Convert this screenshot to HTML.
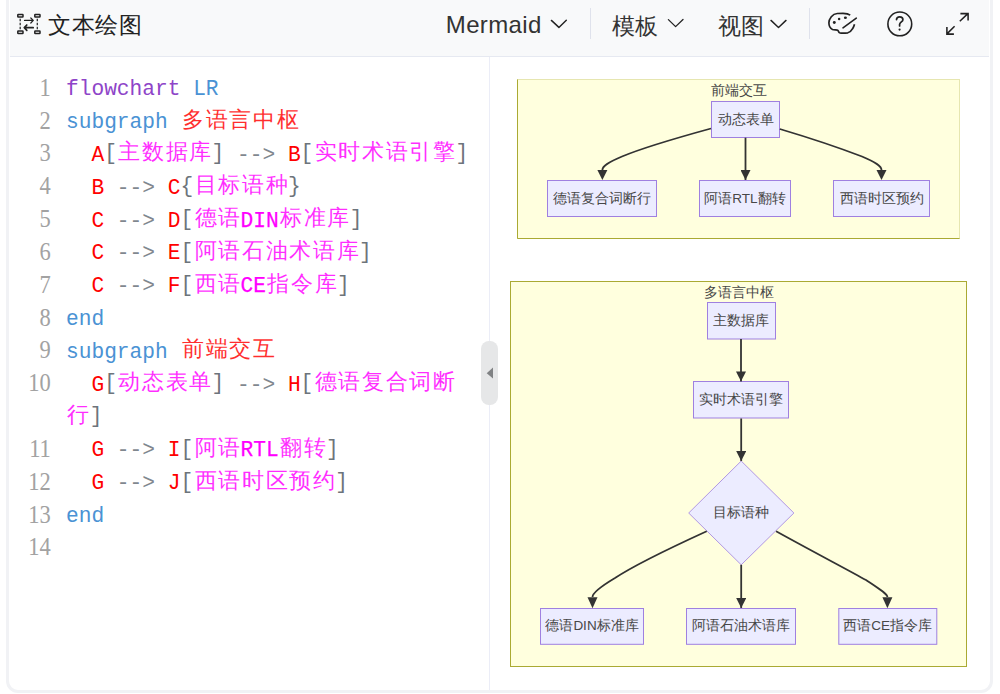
<!DOCTYPE html>
<html><head><meta charset="utf-8">
<style>
html,body{margin:0;padding:0;background:#fff;width:1000px;height:694px;overflow:hidden;position:relative;font-family:"Liberation Sans",sans-serif;}
.card{position:absolute;left:6px;top:-12px;width:987px;height:705px;box-sizing:border-box;border:3px solid #f1f2f5;border-radius:12px;}
.hdr{position:absolute;left:10px;top:0;width:979px;height:56px;background:#f8f9fa;border-bottom:1px solid #e6e9f1;}
.ttl{position:absolute;left:48.3px;top:8.8px;font-size:23.2px;letter-spacing:0.45px;line-height:32px;color:#222;}
.mi{position:absolute;top:8px;font-size:23.5px;line-height:32px;color:#333;}
.sep{position:absolute;top:8px;width:1px;height:31px;background:#dfe2ec;}
.split{position:absolute;left:489px;top:57px;width:1px;height:633px;background:#ebedf7;}
.handle{position:absolute;left:481px;top:341px;width:17px;height:64px;border-radius:8px;background:#e6e7e8;}
.code{position:absolute;left:0;top:0;}
.ln{position:absolute;left:0px;width:50.8px;text-align:right;font-family:"Liberation Serif",serif;font-size:25px;color:#a2a2a2;height:33px;line-height:33px;transform:scaleX(0.9);transform-origin:right center;margin-top:-2.5px;}
.cl{position:absolute;left:66px;font-family:"Liberation Mono",monospace;font-size:21.2px;height:33px;line-height:33px;white-space:pre;color:#777;}
.c{display:inline-block;box-sizing:border-box;white-space:nowrap;line-height:10px;font-size:21.7px;letter-spacing:1.68px;padding-left:1.4px;position:relative;top:-1.5px;}
.br{position:relative;top:-1.5px;}
.kw{color:#8e44c8}.bl{color:#4a92d4}.rd{color:#f00}.mg{color:#f0f;-webkit-text-stroke:0.25px #f0f}.c{-webkit-text-stroke:0;opacity:0.82}.gy{color:#80878e}.gy.br{color:#6d747b}
</style></head><body>
<div class="card"></div>
<div class="hdr"></div>
<svg style="position:absolute;left:0;top:0" width="1000" height="56" viewBox="0 0 1000 56">
<g fill="none" stroke="#222" stroke-linecap="round" stroke-linejoin="round">
<rect x="17.8" y="14.6" width="5.2" height="2.5" rx="0.5" stroke-width="1.5" stroke-linejoin="miter"/>
<rect x="34.8" y="14.6" width="5.2" height="2.5" rx="0.5" stroke-width="1.5" stroke-linejoin="miter"/>
<rect x="17.8" y="31" width="5.2" height="2.4" rx="0.5" stroke-width="1.5" stroke-linejoin="miter"/>
<rect x="34.8" y="31" width="5.2" height="2.4" rx="0.5" stroke-width="1.5" stroke-linejoin="miter"/>
<path d="M20.2 18.7V29.8M37.3 18.7V29.8" stroke-width="1.3" stroke-dasharray="2.6 1.4" stroke-linecap="butt" stroke="#333"/>
<path d="M24.5 20.4H33.2M30.8 18L33.3 20.4L30.8 23" stroke-width="1.2"/>
<path d="M33.2 27.7H24.6M26.8 25L24.3 27.7L26.8 30.4" stroke-width="1.7"/>
<path d="M551.4 20.4L558.9 27.4L566.3 20.2" stroke-width="1.45"/>
<path d="M668.4 19.6L675.6 26.6L683 19.5" stroke-width="1.3"/>
<path d="M771 20.4L778.5 27.5L786 20.4" stroke-width="1.45"/>
<path d="M850.2 15.1C848.5 13.8 846 13.4 843 13.4L837.3 13.5C834.5 13.7 832.5 15.3 831.3 16.8C829.6 19 828.9 21 828.9 22.8C828.9 25.8 829.8 28.2 832.5 29.5C834.5 30.2 837 29.6 837.9 30.4C838.5 31 838.6 32.2 839.6 32.7C841 33.3 845 33.2 847.8 32.8C850 32.2 851.8 30.2 852.6 28.7C853.6 27 854.2 25.6 854.5 24.3" stroke-width="1.7" stroke-linecap="butt"/>
<path d="M843 27.9L856.3 18.2" stroke-width="1.6"/>
<circle cx="834.3" cy="22.5" r="1.45" fill="#222" stroke="none"/>
<circle cx="839.1" cy="18.9" r="1.25" fill="#222" stroke="none"/>
<ellipse cx="845.4" cy="17.7" rx="1.5" ry="1.3" fill="#222" stroke="none"/>
<circle cx="899.8" cy="23.9" r="11.9" stroke-width="1.6"/>
<path d="M896.5 19.6C896.6 17.8 898 16.9 899.7 16.9C901.5 16.9 902.9 18.1 902.9 19.7C902.9 21.6 900 22.2 899.6 24.3V26" stroke-width="1.7"/>
<circle cx="899.6" cy="29.6" r="1.1" fill="#222" stroke="none"/>
<path d="M959.8 21.3L967.6 13.9M960.4 13.6H968.1V20.6" stroke-width="1.55" stroke-linecap="butt" stroke-linejoin="miter"/>
<path d="M954.6 26.3L947.2 33.6M946.9 27V34.1H953.9" stroke-width="1.55" stroke-linecap="butt" stroke-linejoin="miter"/>
</g>
</svg>
<div class="ttl">文本绘图</div>
<div class="mi" style="left:445.8px;font-size:24px;letter-spacing:0.35px;top:9.2px">Mermaid</div>
<div class="sep" style="left:590px"></div>
<div class="mi" style="left:611.5px;top:10.5px;font-size:22.5px">模板</div>
<div class="mi" style="left:717.5px;top:10.8px;font-size:22.5px">视图</div>
<div class="sep" style="left:809px"></div>

<svg style="position:absolute;left:0;top:0" width="1000" height="694" viewBox="0 0 1000 694">
<defs><marker id="ah" viewBox="0 0 10 10" refX="10" refY="5" markerWidth="10" markerHeight="10" markerUnits="userSpaceOnUse" orient="auto"><path d="M0 0L10 5L0 10z" fill="#333"/></marker></defs>
<rect x="517.5" y="79.5" width="442" height="159" fill="#ffffde" stroke="#e6e6b0" stroke-width="1"/>
<path d="M517.5 79.5V238.5H959.5" fill="none" stroke="#aaaa33" stroke-width="1"/>
<rect x="510.5" y="281.5" width="456" height="385" fill="#ffffde" stroke="#aaaa33" stroke-width="1"/>
<g fill="#ececff" stroke="#9f80e0" stroke-width="1">
<rect x="711.5" y="101.5" width="68" height="36"/>
<rect x="547.5" y="180.5" width="109" height="36"/>
<rect x="699.5" y="180.5" width="91" height="36"/>
<rect x="833.5" y="180.5" width="96" height="36"/>
<rect x="707.5" y="302.5" width="68" height="36.5"/>
<rect x="693.5" y="381.5" width="95" height="36.5"/>
<path d="M741.2 461L793.9 513L741.2 564.8L688.7 513Z" stroke-width="0.8"/>
<rect x="540.5" y="608.5" width="103" height="35.8"/>
<rect x="686.5" y="608.5" width="109" height="35.8"/>
<rect x="838.8" y="608.5" width="98" height="35.8"/>
</g>
<g fill="none" stroke="#333" stroke-width="1.8" marker-end="url(#ah)">
<path d="M745.5 137.7V180"/>
<path d="M711 128.5C680 137 640 149 622 156.5C608 162.5 602.4 166 602.4 170" marker-end="none"/>
<path d="M779.8 129C810 138 845 150 862 156.5C876 162.5 881.5 166 881.5 170" marker-end="none"/>
<path d="M741 339V381.4"/>
<path d="M741.2 418.5V461"/>
<path d="M741.2 564.8V608"/>
<path d="M706.7 531.2C670 548 630 568 615 578C600 587 592.5 593 592.5 597" marker-end="none"/>
<path d="M776.1 531.2C810 550 850 571 866 580C881 590 887.4 594 887.4 597" marker-end="none"/>
</g>
<g fill="#333">
<path d="M597.4 170H607.4L602.4 180Z"/>
<path d="M876.5 170H886.5L881.5 180Z"/>
<path d="M587.5 597.2H597.5L592.5 608.2Z"/>
<path d="M882.4 597.2H892.4L887.4 608.2Z"/>
</g>
<g font-family="Liberation Sans, sans-serif" font-size="13.5" fill="#474747" text-anchor="middle">
<text x="738.7" y="95">前端交互</text>
<text x="745.5" y="123.5">动态表单</text>
<text x="602.2" y="202.5">德语复合词断行</text>
<text x="745" y="202.5">阿语RTL翻转</text>
<text x="881.5" y="202.5">西语时区预约</text>
<text x="738.6" y="297">多语言中枢</text>
<text x="741.3" y="325">主数据库</text>
<text x="741" y="404">实时术语引擎</text>
<text x="741.2" y="517">目标语种</text>
<text x="592" y="630">德语DIN标准库</text>
<text x="741" y="630">阿语石油术语库</text>
<text x="887.7" y="630">西语CE指令库</text>
</g>
</svg>
<div class="split"></div>
<div class="handle"></div>
<svg style="position:absolute;left:484px;top:366px" width="12" height="14" viewBox="0 0 12 14"><path d="M2.7 7.2L9 1.6V12.6Z" fill="#808284"/></svg>

<div class="code">
<div class="ln" style="top:73.2px">1</div>
<div class="ln" style="top:106.04px">2</div>
<div class="ln" style="top:138.88px">3</div>
<div class="ln" style="top:171.72px">4</div>
<div class="ln" style="top:204.56px">5</div>
<div class="ln" style="top:237.4px">6</div>
<div class="ln" style="top:270.24px">7</div>
<div class="ln" style="top:303.08px">8</div>
<div class="ln" style="top:335.92px">9</div>
<div class="ln" style="top:368.76px">10</div>
<div class="ln" style="top:434.44px">11</div>
<div class="ln" style="top:467.28px">12</div>
<div class="ln" style="top:500.12px">13</div>
<div class="ln" style="top:532.96px">14</div>
<div class="cl" style="top:73.2px"><span class="kw">flowchart</span> <span class="bl">LR</span></div>
<div class="cl" style="top:106.04px"><span class="bl">subgraph</span> <span class="rd"><span class="c" style="width:118.40px">多语言中枢</span></span></div>
<div class="cl" style="top:138.88px">  <span class="rd">A</span><span class="gy br">[</span><span class="mg"><span class="c" style="width:94.72px">主数据库</span></span><span class="gy br">]</span><span class="gy"> --&gt; </span><span class="rd">B</span><span class="gy br">[</span><span class="mg"><span class="c" style="width:142.08px">实时术语引擎</span></span><span class="gy br">]</span></div>
<div class="cl" style="top:171.72px">  <span class="rd">B</span><span class="gy"> --&gt; </span><span class="rd">C</span><span class="gy br">{</span><span class="mg"><span class="c" style="width:94.72px">目标语种</span></span><span class="gy br">}</span></div>
<div class="cl" style="top:204.56px">  <span class="rd">C</span><span class="gy"> --&gt; </span><span class="rd">D</span><span class="gy br">[</span><span class="mg"><span class="c" style="width:47.36px">德语</span>DIN<span class="c" style="width:71.04px">标准库</span></span><span class="gy br">]</span></div>
<div class="cl" style="top:237.4px">  <span class="rd">C</span><span class="gy"> --&gt; </span><span class="rd">E</span><span class="gy br">[</span><span class="mg"><span class="c" style="width:165.76px">阿语石油术语库</span></span><span class="gy br">]</span></div>
<div class="cl" style="top:270.24px">  <span class="rd">C</span><span class="gy"> --&gt; </span><span class="rd">F</span><span class="gy br">[</span><span class="mg"><span class="c" style="width:47.36px">西语</span>CE<span class="c" style="width:71.04px">指令库</span></span><span class="gy br">]</span></div>
<div class="cl" style="top:303.08px"><span class="bl">end</span></div>
<div class="cl" style="top:335.92px"><span class="bl">subgraph</span> <span class="rd"><span class="c" style="width:94.72px">前端交互</span></span></div>
<div class="cl" style="top:368.76px">  <span class="rd">G</span><span class="gy br">[</span><span class="mg"><span class="c" style="width:94.72px">动态表单</span></span><span class="gy br">]</span><span class="gy"> --&gt; </span><span class="rd">H</span><span class="gy br">[</span><span class="mg"><span class="c" style="width:142.08px">德语复合词断</span></span></div>
<div class="cl" style="top:401.6px"><span class="mg"><span class="c" style="width:23.68px">行</span></span><span class="gy br">]</span></div>
<div class="cl" style="top:434.44px">  <span class="rd">G</span><span class="gy"> --&gt; </span><span class="rd">I</span><span class="gy br">[</span><span class="mg"><span class="c" style="width:47.36px">阿语</span>RTL<span class="c" style="width:47.36px">翻转</span></span><span class="gy br">]</span></div>
<div class="cl" style="top:467.28px">  <span class="rd">G</span><span class="gy"> --&gt; </span><span class="rd">J</span><span class="gy br">[</span><span class="mg"><span class="c" style="width:142.08px">西语时区预约</span></span><span class="gy br">]</span></div>
<div class="cl" style="top:500.12px"><span class="bl">end</span></div>
</div>

</body></html>
